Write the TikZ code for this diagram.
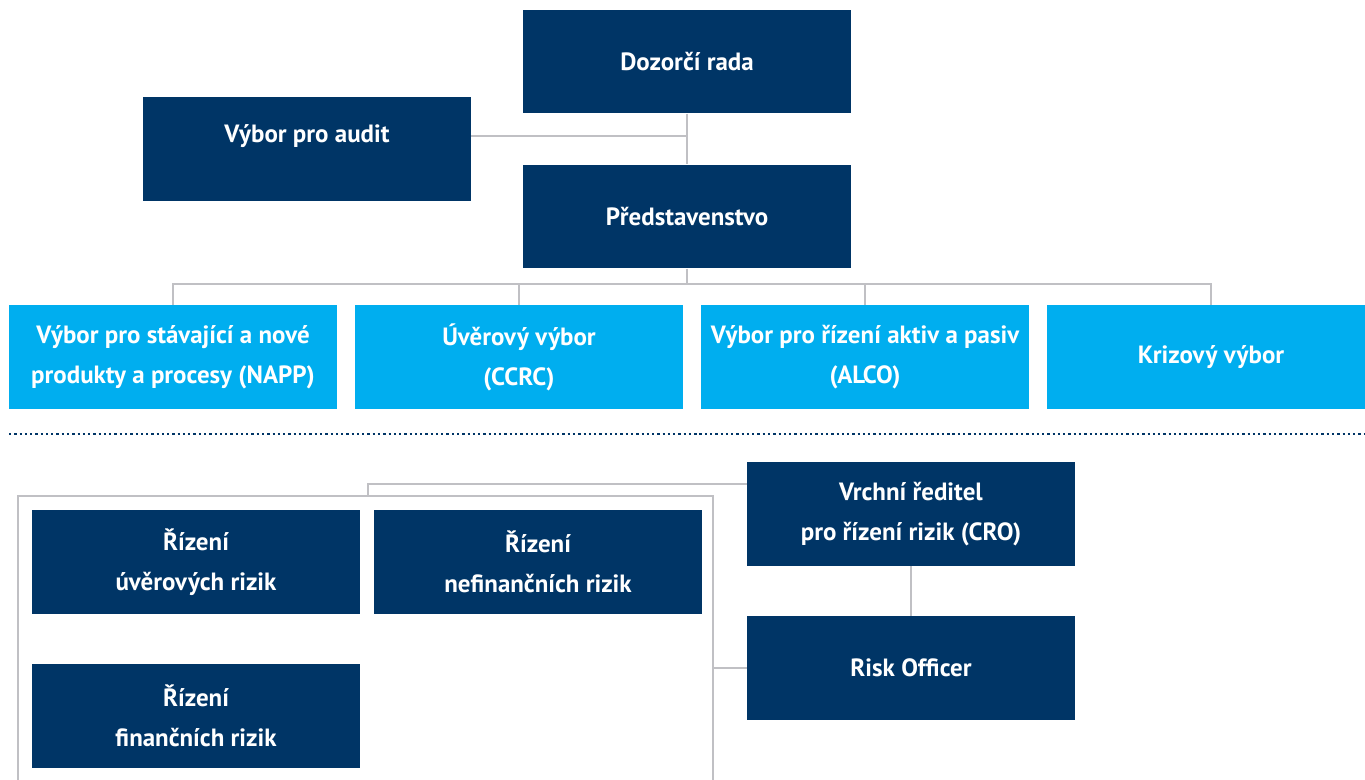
\documentclass[tikz,border=0pt]{standalone}
\usepackage{fontspec}
\setmainfont{PT Sans}
\usepackage{tikz}
\usetikzlibrary{calc}

\definecolor{tmnavy}{RGB}{0,53,102}
\definecolor{tmcyan}{RGB}{0,174,239}
\definecolor{tmgray}{RGB}{192,192,196}

\begin{document}
\begin{tikzpicture}[x=0.02cm,y=-0.02cm,
  box/.style={fill=tmnavy,text=white,minimum width=6.56cm,minimum height=2.07cm,
    inner sep=0pt,align=center,font=\fontsize{14.2}{22.8}\selectfont\bfseries},
  cbox/.style={box,fill=tmcyan},
  link/.style={draw=tmgray,line width=1.1pt}]
\useasboundingbox (0,0) rectangle (1365,779);
\clip (0,0) rectangle (1365,779);

% vedeni
\node[box] (dozorci) at (687,61.5) {Dozorčí rada};
\node[box,text depth=0.62cm] (audit) at (307,149) {Výbor pro audit};
\node[box] (predst) at (687,216.5) {Představenstvo};

% vybory
\node[cbox] (napp) at (173,357) {Výbor pro stávající a nové\\produkty a procesy (NAPP)};
\node[cbox] (ccrc) at (519,357) {Úvěrový výbor\\(CCRC)};
\node[cbox] (alco) at (865,357) {Výbor pro řízení aktiv a pasiv\\(ALCO)};
\node[cbox] (krize) at (1211,357) {Krizový výbor};

% rizeni rizik
\node[box] (cro) at (911,514) {Vrchní ředitel\\pro řízení rizik (CRO)};
\node[box] (risk) at (911,668) {Risk Officer};
\node[box] (uverriz) at (196,562) {Řízení\\úvěrových rizik};
\node[box] (nefin) at (538,562) {Řízení\\nefinančních rizik};
\node[box] (fin) at (196,716) {Řízení\\finančních rizik};

\coordinate (bus) at (687,284);
\coordinate (frametop) at (368,496);
\coordinate (croin) at (747,484);
\coordinate (frameR) at (713,668);

\draw[link] (dozorci) -- (predst);
\draw[link] (audit.east |- 0,136) -- (dozorci.south |- 0,136);
\draw[link] (predst) -- (bus);
\draw[link] (napp.north) |- (bus) -| (krize.north);
\draw[link] (ccrc.north) -- (ccrc.north |- bus);
\draw[link] (alco.north) -- (alco.north |- bus);

\draw[tmnavy,line width=1.3pt,dash pattern=on 1.3pt off 1.7pt] (9,434) -- (1365,434);

\draw[link,line width=0.8pt] (18,800) |- (713,496) -- (713,800);
\draw[link,line width=0.8pt] (frametop) |- (croin);
\draw[link,line width=0.8pt] (risk.west) -- (frameR);
\draw[link,line width=0.8pt] (cro) -- (risk);
\end{tikzpicture}
\end{document}
